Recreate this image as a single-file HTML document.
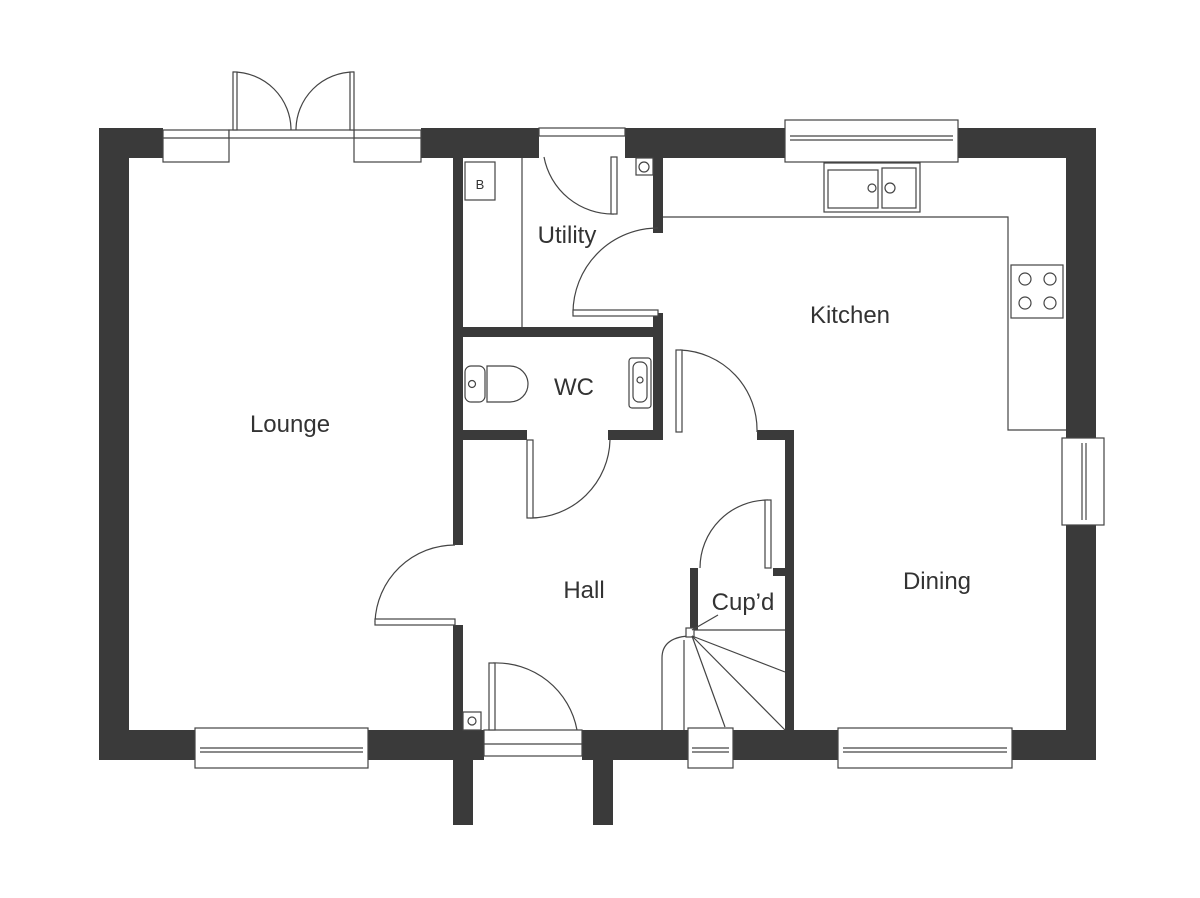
<!DOCTYPE html>
<html><head><meta charset="utf-8"><style>body{margin:0;background:#fff}svg{display:block}text{font-family:"Liberation Sans",sans-serif;font-size:24px;fill:#333;text-anchor:middle}</style></head><body>
<svg width="1200" height="898" viewBox="0 0 1200 898" xmlns="http://www.w3.org/2000/svg">
<g fill="#3a3a3a">
<!-- outer walls -->
<rect x="99" y="128" width="64" height="30"/>
<rect x="421" y="128" width="118" height="30"/>
<rect x="625" y="128" width="160" height="30"/>
<rect x="958" y="128" width="138" height="30"/>
<rect x="99" y="128" width="30" height="632"/>
<rect x="1066" y="128" width="30" height="310"/>
<rect x="1066" y="525" width="30" height="235"/>
<rect x="99" y="730" width="96" height="30"/>
<rect x="368" y="730" width="116" height="30"/>
<rect x="582" y="730" width="106" height="30"/>
<rect x="733" y="730" width="105" height="30"/>
<rect x="1012" y="730" width="84" height="30"/>
<rect x="453" y="760" width="20" height="65"/>
<rect x="593" y="760" width="20" height="65"/>
<!-- interior -->
<rect x="453" y="158" width="10" height="387"/>
<rect x="453" y="625" width="10" height="105"/>
<rect x="453" y="327" width="210" height="10"/>
<rect x="653" y="158" width="10" height="75"/>
<rect x="653" y="313" width="10" height="127"/>
<rect x="453" y="430" width="74" height="10"/>
<rect x="608" y="430" width="55" height="10"/>
<rect x="757" y="430" width="37" height="10"/>
<rect x="785" y="430" width="9" height="300"/>
<rect x="773" y="568" width="12" height="8"/>
<rect x="690" y="568" width="8" height="62"/>
</g>
<g fill="none" stroke="#444" stroke-width="1.2">
<!-- windows -->
<rect x="163" y="130" width="66" height="32" fill="#fff"/><line x1="163" y1="138" x2="229" y2="138"/>
<rect x="354" y="130" width="67" height="32" fill="#fff"/><line x1="354" y1="138" x2="421" y2="138"/>
<rect x="229" y="130" width="125" height="8" fill="#fff"/>
<rect x="539" y="128" width="86" height="8" fill="#fff"/>
<rect x="785" y="120" width="173" height="42" fill="#fff"/><line x1="790" y1="136" x2="953" y2="136"/><line x1="790" y1="140" x2="953" y2="140"/>
<rect x="195" y="728" width="173" height="40" fill="#fff"/><line x1="200" y1="748" x2="363" y2="748"/><line x1="200" y1="752" x2="363" y2="752"/>
<rect x="688" y="728" width="45" height="40" fill="#fff"/><line x1="692" y1="748" x2="729" y2="748"/><line x1="692" y1="752" x2="729" y2="752"/>
<rect x="838" y="728" width="174" height="40" fill="#fff"/><line x1="843" y1="748" x2="1007" y2="748"/><line x1="843" y1="752" x2="1007" y2="752"/>
<rect x="1062" y="438" width="42" height="87" fill="#fff"/><line x1="1082" y1="443" x2="1082" y2="520"/><line x1="1086" y1="443" x2="1086" y2="520"/>
<rect x="484" y="730" width="98" height="26" fill="#fff"/><line x1="484" y1="744" x2="582" y2="744"/>
<!-- counters -->
<line x1="522" y1="158" x2="522" y2="327"/>
<polyline points="663,217 1008,217 1008,430 1066,430"/>
<!-- doors arcs -->
<path d="M233 72 A58 58 0 0 1 291 130"/><rect x="233" y="72" width="4" height="58" fill="#fff"/>
<path d="M354 72 A58 58 0 0 0 296 130"/><rect x="350" y="72" width="4" height="58" fill="#fff"/>
<path d="M544 157 A70 70 0 0 0 614 214"/><rect x="611" y="157" width="6" height="57" fill="#fff"/>
<path d="M573 313 A85 85 0 0 1 658 228"/><rect x="573" y="310" width="85" height="6" fill="#fff"/>
<path d="M530 518 A80 80 0 0 0 610 440"/><rect x="527" y="440" width="6" height="78" fill="#fff"/>
<path d="M680 350 A80 80 0 0 1 757 432"/><rect x="676" y="350" width="6" height="82" fill="#fff"/>
<path d="M375 622 A80 80 0 0 1 455 545"/><rect x="375" y="619" width="80" height="6" fill="#fff"/>
<path d="M493 663 A82 82 0 0 1 577 730"/><rect x="489" y="663" width="6" height="67" fill="#fff"/>
<path d="M700 568 A68 68 0 0 1 768 500"/><rect x="765" y="500" width="6" height="68" fill="#fff"/>
<!-- stairs -->
<line x1="694" y1="630" x2="785" y2="630"/>
<path d="M662 730 V658 Q662 638 688 636"/>
<line x1="684" y1="640" x2="684" y2="730"/>
<rect x="686" y="628" width="8" height="9" fill="#fff"/>
<line x1="692" y1="636" x2="785" y2="672"/><line x1="692" y1="636" x2="785" y2="730"/><line x1="692" y1="636" x2="725" y2="727"/>
<line x1="692" y1="630" x2="718" y2="615"/>
<!-- fixtures -->
<rect x="465" y="162" width="30" height="38"/>
<rect x="636" y="158" width="17" height="17"/><circle cx="644" cy="167" r="5"/>
<rect x="824" y="163" width="96" height="49"/><rect x="828" y="170" width="50" height="38"/><rect x="882" y="168" width="34" height="40"/>
<circle cx="872" cy="188" r="4"/><circle cx="890" cy="188" r="5"/>
<rect x="1011" y="265" width="52" height="53"/>
<circle cx="1025" cy="279" r="6"/><circle cx="1050" cy="279" r="6"/><circle cx="1025" cy="303" r="6"/><circle cx="1050" cy="303" r="6"/>
<rect x="465" y="366" width="20" height="36" rx="6"/><circle cx="472" cy="384" r="3.5"/>
<path d="M487 366 H510 A18 18 0 0 1 510 402 H487 Z"/>
<rect x="629" y="358" width="22" height="50" rx="3"/><rect x="633" y="362" width="14" height="40" rx="6"/><circle cx="640" cy="380" r="3"/>
<rect x="463" y="712" width="18" height="18"/><circle cx="472" cy="721" r="4"/>
</g>
<text x="480" y="189" style="font-size:13px">B</text>
<text x="290" y="432">Lounge</text>
<text x="567" y="243">Utility</text>
<text x="850" y="323">Kitchen</text>
<text x="574" y="395">WC</text>
<text x="584" y="598">Hall</text>
<text x="937" y="589">Dining</text>
<text x="743" y="610">Cup’d</text>
</svg>
</body></html>
